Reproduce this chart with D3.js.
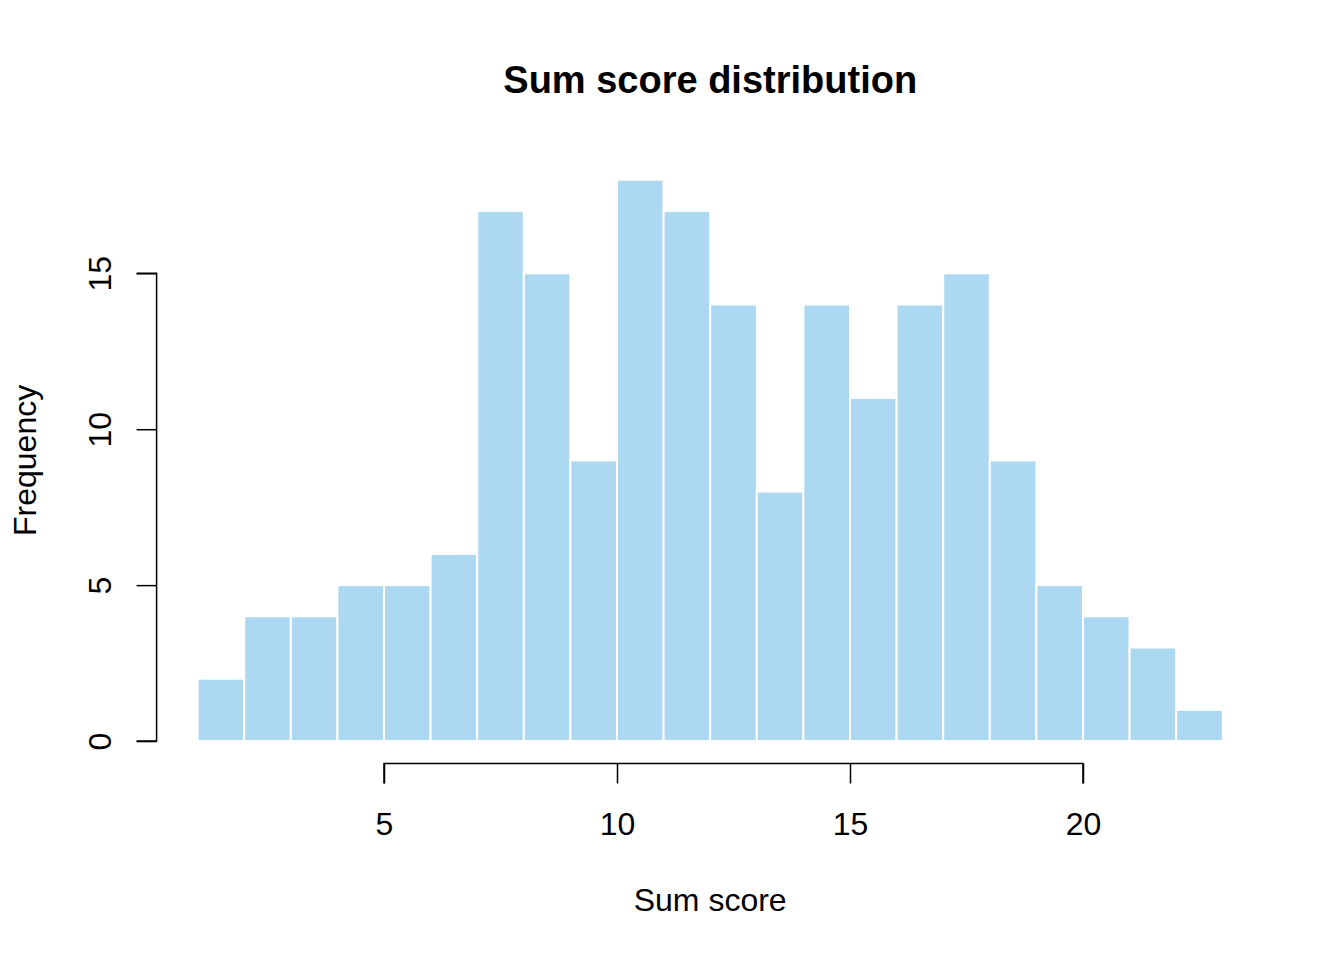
<!DOCTYPE html>
<html>
<head>
<meta charset="utf-8">
<script src="https://cdn.jsdelivr.net/npm/d3@7"></script>
<style>
  body { margin: 0; background: #fff; }
  text { font-family: "Liberation Sans", Arial, sans-serif; }
</style>
</head>
<body>
<svg id="chart"></svg>
<script>
// histogram bins (left edges) and counts
const binStarts = [1, 2, 3, 4, 5, 6, 7, 8, 9, 10, 11, 12, 13, 14, 15, 16, 17, 18, 19, 20, 21, 22];
const counts = [2, 4, 4, 5, 5, 6, 17, 15, 9, 18, 17, 14, 8, 14, 11, 14, 15, 9, 5, 4, 3, 1];
const binWidth = 1;
const xTicks = [5, 10, 15, 20];
const yTicks = [0, 5, 10, 15];

const width = 1344, height = 960;

const svg = d3.select("#chart")
    .attr("width", width)
    .attr("height", height);

// plot region follows R's 4% axis extension
const x = d3.scaleLinear()
    .domain([0.12, 23.88])
    .range([156.6, 1263.8]);

const y = d3.scaleLinear()
    .domain([-0.72, 18.72])
    .range([763.5, 157.3]);

// BARS
svg.append("g")
    .selectAll("rect")
    .data(binStarts)
    .join("rect")
    .attr("x", d => x(d))
    .attr("width", d => x(d + binWidth) - x(d))
    .attr("y", (d, i) => y(counts[i]))
    .attr("height", (d, i) => y(0) - y(counts[i]))
    .attr("fill", "#ADD8F2")
    .attr("stroke", "#fff")
    .attr("stroke-width", 2);

// X AXIS
const xAxis = d3.axisBottom(x)
    .tickValues(xTicks)
    .tickSize(20)
    .tickFormat(d3.format("d"));

svg.append("g")
    .attr("transform", `translate(0, ${y.range()[0]})`)
    .call(xAxis)
    .call(g => g.select(".domain")
        .attr("d", `M${x(5)},20V0H${x(20)}V20`))
    .call(g => g.selectAll("line, path").attr("stroke", "#000").attr("stroke-width", 1.5))
    .call(g => g.selectAll("text").attr("font-size", 32).attr("fill", "#000")
        .attr("font-family", "Liberation Sans, Arial, sans-serif")
        .attr("y", 71).attr("dy", null));

// Y AXIS
const yAxis = d3.axisLeft(y)
    .tickValues(yTicks)
    .tickSize(20)
    .tickFormat(d3.format("d"));

svg.append("g")
    .attr("transform", `translate(${x.range()[0]}, 0)`)
    .call(yAxis)
    .call(g => g.select(".domain")
        .attr("d", `M-20,${y(0)}H0V${y(15)}H-20`))
    .call(g => g.selectAll("line, path").attr("stroke", "#000").attr("stroke-width", 1.5))
    .call(g => g.selectAll("text")
        .attr("font-size", 32).attr("fill", "#000")
        .attr("font-family", "Liberation Sans, Arial, sans-serif")
        .attr("x", null)
        .attr("text-anchor", "middle")
        .attr("transform", "translate(-57,0) rotate(-90)")
        .attr("y", 0)
        .attr("dy", "0.35em"));

// TITLE AND LABELS
const midX = (x.range()[0] + x.range()[1]) / 2;
const midY = (y.range()[0] + y.range()[1]) / 2;

svg.append("text")
    .attr("x", midX)
    .attr("y", 93)
    .attr("text-anchor", "middle")
    .attr("font-size", 38)
    .attr("font-weight", "bold")
    .text("Sum score distribution");

svg.append("text")
    .attr("x", midX)
    .attr("y", 911)
    .attr("text-anchor", "middle")
    .attr("font-size", 32)
    .text("Sum score");

svg.append("text")
    .attr("transform", `translate(36, ${midY}) rotate(-90)`)
    .attr("text-anchor", "middle")
    .attr("font-size", 32)
    .text("Frequency");
</script>
</body>
</html>
